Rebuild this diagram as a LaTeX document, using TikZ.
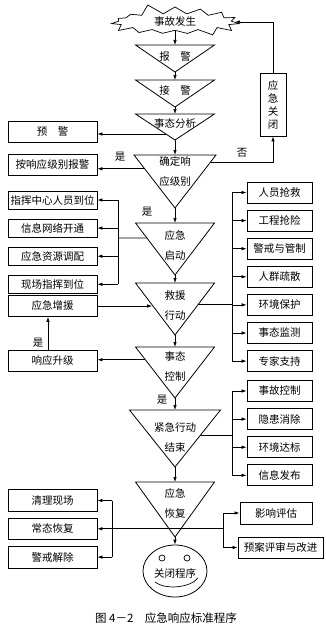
\documentclass[tikz,border=0pt]{standalone}
\usepackage{fontspec}
\newfontfamily\cjk{Noto Sans CJK SC}
\usetikzlibrary{arrows.meta,calc,positioning,shapes.geometric,shapes.symbols}

\tikzset{
  stepbox/.style={draw, line width=0.8pt, minimum width=89pt, minimum height=21pt, inner sep=0pt},
  rbox/.style={stepbox, minimum width=65pt},
  tri/.style={draw, line width=0.8pt},
  tritext/.style={align=center, inner sep=0pt, font=\cjk\fontsize{10.5}{20}\selectfont},
  burst/.style={starburst, draw, line width=0.7pt, starburst points=15, starburst point height=11pt,
    random starburst=5, inner xsep=19pt, inner ysep=1pt},
  yesno/.style={inner sep=1pt}
}

\begin{document}
\begin{tikzpicture}[x=1pt, y=-1pt, >={Latex[length=5pt,width=3.5pt]}, font=\cjk\fontsize{10.5}{12}\selectfont,
    line width=0.7pt, node distance=6.3pt]
    \useasboundingbox (0,0) rectangle (325,626);

    % 起点
    \node[burst] (start) at (175,22) {事故发生};

    % 主流程
    \foreach \n/\ty/\ay/\hw/\ly/\txt in {
        T1/45/72/39.5/57/{报\quad 警},
        T2/80/107/39.5/91/{接\quad 警},
        T3/114/140/39.5/124/{事态分析},
        T4/155/208/41/172/{确定响\\应级别},
        T5/223/275/39.5/245/{应急\\启动},
        T6/283/335/39.5/306/{救援\\行动},
        T7/347/398/39.5/366/{事态\\控制},
        T8/410/467/45.5/437/{紧急行动\\结束},
        T9/482/537/39.5/503/{应急\\恢复}}{
        \coordinate (\n-l) at (175-\hw,\ty);
        \coordinate (\n-r) at (175+\hw,\ty);
        \coordinate (\n-t) at (175,\ty);
        \coordinate (\n-a) at (175,\ay);
        \draw[tri] (\n-l) -- (\n-r) -- (\n-a) -- cycle;
        \node[tritext] (\n-x) at (175,\ly) {\txt};
    }
    \node[ellipse, draw, line width=0.8pt, minimum width=64pt, minimum height=52pt, inner sep=0pt] (close) at (175,571) {};
    \node (closetext) at (175,573) {关闭程序};
    \draw ($(close.center)+(-13,-13)$) circle[radius=3pt];
    \draw ($(close.center)+(12,-13)$) circle[radius=3pt];
    \draw (155,582) .. controls (165,590) and (190,588) .. (198,578);

    \draw[->] (start) -- (T1-t);
    \foreach \a/\b in {T1/T2,T2/T3,T3/T4,T4/T5,T5/T6,T6/T7,T7/T8,T8/T9}
        \draw[->] (\a-a) -- (\b-t);
    \draw[->] (T9-a) -- (close);

    % 预警与分级
    \node[stepbox] (yujing) at (52.5,131.5) {预\quad 警};
    \node[stepbox] (fenji) at (52.5,165) {按响应级别报警};
    \coordinate (T3-w) at ($(T3-l)!0.77!(T3-a)$);
    \coordinate (T4-w) at ($(T4-l)!0.26!(T4-a)$);
    \coordinate (T4-e) at ($(T4-r)!0.13!(T4-a)$);
    \draw[->] (T3-w) -- (T3-w -| yujing.east);
    \draw[->] (T4-w) -- (T4-w -| fenji.east);
    \node[yesno] (yes1) at (120,157) {是};

    % 应急关闭
    \node[draw, line width=0.8pt, minimum width=26pt, minimum height=63pt, inner sep=0pt, align=center,
        font=\cjk\fontsize{10.5}{13}\selectfont] (guanbi) at (273,104.5) {应\\急\\关\\闭};
    \draw[->] (T4-e) -| (guanbi.south);
    \draw[->] (guanbi.north) |- (start.east);
    \node[yesno] (no1) at (242,153) {否};
    \node[yesno] (yes2) at (147,212) {是};

    % 应急启动
    \node[stepbox, minimum height=18pt] (qd1) at (52.5,200) {指挥中心人员到位};
    \node[stepbox, minimum height=18pt, below=9.3pt of qd1] (qd2) {信息网络开通};
    \node[stepbox, minimum height=18pt, below=9.3pt of qd2] (qd3) {应急资源调配};
    \node[stepbox, minimum height=18pt, below=9.3pt of qd3] (qd4) {现场指挥到位};
    \coordinate (T5-w) at ($(T5-l)!0.29!(T5-a)$);
    \coordinate (lb1) at (118,238);
    \draw (T5-w) -- (lb1);
    \draw (lb1 |- qd1.east) -- (lb1 |- qd4.east);
    \foreach \i in {1,...,4}
        \draw[->] (lb1 |- qd\i.east) -- (qd\i.east);

    % 救援行动
    \node[rbox] (jy1) at (279.5,192.5) {人员抢救};
    \node[rbox, below=of jy1] (jy2) {工程抢险};
    \node[rbox, below=of jy2] (jy3) {警戒与管制};
    \node[rbox, below=of jy3] (jy4) {人群疏散};
    \node[rbox, below=of jy4] (jy5) {环境保护};
    \node[rbox, below=of jy5] (jy6) {事态监测};
    \node[rbox, below=of jy6] (jy7) {专家支持};
    \coordinate (T6-w) at ($(T6-l)!0.42!(T6-a)$);
    \coordinate (T6-e) at ($(T6-r)!0.42!(T6-a)$);
    \coordinate (rb1) at (232,305);
    \draw (T6-e) -- (T6-e -| rb1);
    \draw (rb1 |- jy1.west) -- (rb1 |- jy7.west);
    \foreach \i in {1,...,7}
        \draw[->] (rb1 |- jy\i.west) -- (jy\i.west);

    \node[stepbox] (zengyuan) at (52.5,306) {应急增援};
    \node[stepbox] (shengji) at (52.5,360.5) {响应升级};
    \draw[->] (zengyuan.east) -- (zengyuan.east -| T6-w);
    \coordinate (T7-w) at ($(T7-l)!0.25!(T7-a)$);
    \draw[->] (T7-w) -- (T7-w -| shengji.east);
    \draw[->] (shengji.north -| 48,0) -- (zengyuan.south -| 48,0);
    \node[yesno] (yes3) at (38,343) {是};
    \node[yesno] (yes4) at (162,400) {是};

    % 紧急行动结束
    \node[rbox] (js1) at (279.5,391) {事故控制};
    \node[rbox, below=of js1] (js2) {隐患消除};
    \node[rbox, below=of js2] (js3) {环境达标};
    \node[rbox, below=of js3] (js4) {信息发布};
    \coordinate (T8-e) at ($(T8-r)!0.44!(T8-a)$);
    \coordinate (rb2) at (232,435);
    \draw (T8-e) -- (T8-e -| rb2);
    \draw (rb2 |- js1.west) -- (rb2 |- js4.west);
    \foreach \i in {1,...,4}
        \draw[->] (rb2 |- js\i.west) -- (js\i.west);

    % 应急恢复
    \node[stepbox, minimum height=22pt] (hf1) at (52.5,500.5) {清理现场};
    \node[stepbox, below=6pt of hf1] (hf2) {常态恢复};
    \node[stepbox, minimum height=22pt, below=6pt of hf2] (hf3) {警戒解除};
    \node[stepbox, minimum width=72pt, minimum height=22pt] (pg1) at (276,513) {影响评估};
    \node[stepbox, minimum width=85pt, minimum height=21pt] (pg2) at (280.5,547.5) {预案评审与改进};
    \coordinate (lb3) at (112,524);
    \coordinate (rb3) at (223,524);
    \draw[->] (hf2.east -| rb3) -- (hf2.east);
    \draw (lb3 |- hf1.east) -- (lb3 |- hf3.east);
    \draw[->] (lb3 |- hf1.east) -- (hf1.east);
    \draw[->] (lb3 |- hf3.east) -- (hf3.east);
    \draw (rb3 |- pg1.west) -- (rb3 |- pg2.west);
    \draw[->] (rb3 |- pg1.west) -- (pg1.west);
    \draw[->] (rb3 |- pg2.west) -- (pg2.west);

    \node[font=\cjk\fontsize{11.5}{14}\selectfont] (caption) at (166,618) {图 4－2\quad 应急响应标准程序};
\end{tikzpicture}
\end{document}
